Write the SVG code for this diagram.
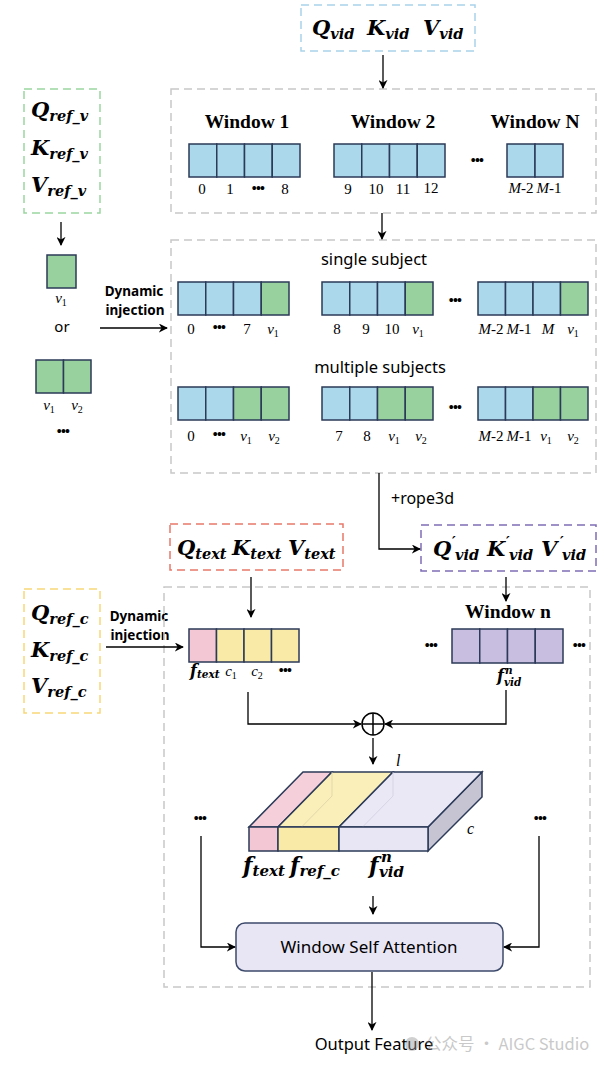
<svg xmlns="http://www.w3.org/2000/svg" width="602" height="1068" viewBox="0 0 602 1068">
<style>
.dg{fill:none;stroke:#c8c8c8;stroke-width:1.5;stroke-dasharray:8 5}
.cb{fill:#abd8ea;stroke:#2b3a58;stroke-width:1.5}
.cg{fill:#98d19e;stroke:#2b3a58;stroke-width:1.5}
.cp{fill:#f4c7d4;stroke:#2b3a58;stroke-width:1.5}
.cy{fill:#faeaa8;stroke:#2b3a58;stroke-width:1.5}
.cv{fill:#c8bfe0;stroke:#2b3a58;stroke-width:1.5}
.m{font-family:"DejaVu Serif",serif;font-weight:bold;font-style:italic;fill:#000}
.n{font-family:"Liberation Serif",serif;font-size:15px;fill:#000;text-anchor:middle}
.ni{font-family:"Liberation Serif",serif;font-size:15px;font-style:italic;fill:#000;text-anchor:middle}
.dots{font-family:"Liberation Sans",sans-serif;font-size:14px;letter-spacing:-0.8px;fill:#000;text-anchor:middle}
.h{font-family:"Noto Sans",sans-serif;fill:#000}
.t{font-family:"Liberation Serif",serif;font-weight:bold;font-size:19.5px;fill:#000;text-anchor:middle}
.c{stroke:#000;stroke-width:1.3;fill:none}
.a{marker-end:url(#ah)}
</style>
<defs>
<marker id="ah" viewBox="0 0 10 10" refX="9" refY="5" markerWidth="9" markerHeight="9" markerUnits="userSpaceOnUse" orient="auto">
<path d="M0,0 L10,5 L0,10 L3,5 z" fill="#000"/>
</marker>
</defs>

<g id="qkv-vid">
<rect x="301" y="5" width="174" height="46" fill="none" stroke="#a9d4ea" stroke-width="1.5" stroke-dasharray="8 5"/>
<text class="m" x="312" y="35"><tspan font-size="21">Q</tspan><tspan font-size="14.5" dy="4">vid</tspan></text>
<text class="m" x="367" y="35"><tspan font-size="21">K</tspan><tspan font-size="14.5" dy="4">vid</tspan></text>
<text class="m" x="423" y="35"><tspan font-size="21">V</tspan><tspan font-size="14.5" dy="4">vid</tspan></text>
</g>

<g id="qkv-ref-v">
<rect x="24" y="89" width="76" height="124" fill="none" stroke="#9ad6a0" stroke-width="1.5" stroke-dasharray="8 5"/>
<text class="m" x="31" y="117"><tspan font-size="21">Q</tspan><tspan font-size="14.5" dy="4">ref_v</tspan></text>
<text class="m" x="31" y="155"><tspan font-size="21">K</tspan><tspan font-size="14.5" dy="4">ref_v</tspan></text>
<text class="m" x="31" y="192"><tspan font-size="21">V</tspan><tspan font-size="14.5" dy="4">ref_v</tspan></text>
</g>

<g id="windows">
<rect class="dg" x="171" y="89" width="425" height="124"/>
<text class="t" x="247" y="128">Window 1</text>
<text class="t" x="393" y="128">Window 2</text>
<text class="t" x="535" y="128">Window N</text>
<rect class="cb" x="189" y="144" width="27.75" height="33"/>
<rect class="cb" x="216.75" y="144" width="27.75" height="33"/>
<rect class="cb" x="244.5" y="144" width="27.75" height="33"/>
<rect class="cb" x="272.25" y="144" width="27.75" height="33"/>
<text class="n" x="202" y="194">0</text><text class="n" x="230" y="194">1</text><text class="dots" x="258" y="193">•••</text><text class="n" x="285" y="194">8</text>
<rect class="cb" x="334" y="144" width="27.75" height="33"/>
<rect class="cb" x="361.75" y="144" width="27.75" height="33"/>
<rect class="cb" x="389.5" y="144" width="27.75" height="33"/>
<rect class="cb" x="417.25" y="144" width="27.75" height="33"/>
<text class="n" x="348" y="194">9</text><text class="n" x="376" y="194">10</text><text class="n" x="403" y="194">11</text><text class="n" x="431" y="193">12</text>
<text class="dots" x="477" y="165">•••</text>
<rect class="cb" x="507" y="144" width="28" height="33"/>
<rect class="cb" x="535" y="144" width="28" height="33"/>
<text class="ni" x="521" y="193">M<tspan font-style="normal">-2</tspan></text>
<text class="ni" x="549" y="193">M<tspan font-style="normal">-1</tspan></text>
</g>

<g id="ref-v-tokens">
<rect class="cg" x="47" y="255" width="29" height="33"/>
<text class="ni" x="61" y="303">v<tspan font-size="10" font-style="normal" dy="3">1</tspan></text>
<text class="h" x="62" y="332" font-size="15" text-anchor="middle">or</text>
<rect class="cg" x="36" y="360" width="27.5" height="33"/>
<rect class="cg" x="63.5" y="360" width="27.5" height="33"/>
<text class="ni" x="49" y="410">v<tspan font-size="10" font-style="normal" dy="3">1</tspan></text>
<text class="ni" x="77" y="410">v<tspan font-size="10" font-style="normal" dy="3">2</tspan></text>
<text class="dots" x="63" y="436">•••</text>
</g>

<g id="injection-1">
<text class="h" x="134" y="296" font-size="13.5" font-weight="bold" text-anchor="middle">Dynamic</text>
<text class="h" x="135" y="315" font-size="13.5" font-weight="bold" text-anchor="middle">injection</text>
</g>

<g id="injected-windows">
<rect class="dg" x="171" y="240" width="425" height="233"/>
<text class="h" x="374" y="265" font-size="16.5" text-anchor="middle">single subject</text>
<rect class="cb" x="178" y="282" width="27.75" height="33"/>
<rect class="cb" x="205.75" y="282" width="27.75" height="33"/>
<rect class="cb" x="233.5" y="282" width="27.75" height="33"/>
<rect class="cg" x="261.25" y="282" width="27.75" height="33"/>
<text class="n" x="191" y="334">0</text><text class="dots" x="219" y="332">•••</text><text class="n" x="247" y="334">7</text>
<text class="ni" x="273" y="334">v<tspan font-size="10" font-style="normal" dy="3">1</tspan></text>
<rect class="cb" x="322" y="282" width="27.75" height="33"/>
<rect class="cb" x="349.75" y="282" width="27.75" height="33"/>
<rect class="cb" x="377.5" y="282" width="27.75" height="33"/>
<rect class="cg" x="405.25" y="282" width="27.75" height="33"/>
<text class="n" x="337" y="334">8</text><text class="n" x="366" y="334">9</text><text class="n" x="392" y="334">10</text>
<text class="ni" x="418" y="334">v<tspan font-size="10" font-style="normal" dy="3">1</tspan></text>
<text class="dots" x="455" y="305">•••</text>
<rect class="cb" x="478" y="282" width="27.5" height="33"/>
<rect class="cb" x="505.5" y="282" width="27.5" height="33"/>
<rect class="cb" x="533" y="282" width="27.5" height="33"/>
<rect class="cg" x="560.5" y="282" width="27.5" height="33"/>
<text class="ni" x="491" y="334">M<tspan font-style="normal">-2</tspan></text>
<text class="ni" x="519" y="334">M<tspan font-style="normal">-1</tspan></text>
<text class="ni" x="548" y="334">M</text>
<text class="ni" x="573" y="334">v<tspan font-size="10" font-style="normal" dy="3">1</tspan></text>

<text class="h" x="380" y="373" font-size="16.5" text-anchor="middle">multiple subjects</text>
<rect class="cb" x="178" y="387" width="27.75" height="33"/>
<rect class="cb" x="205.75" y="387" width="27.75" height="33"/>
<rect class="cg" x="233.5" y="387" width="27.75" height="33"/>
<rect class="cg" x="261.25" y="387" width="27.75" height="33"/>
<text class="n" x="191" y="441">0</text><text class="dots" x="219" y="439">•••</text>
<text class="ni" x="246" y="441">v<tspan font-size="10" font-style="normal" dy="3">1</tspan></text>
<text class="ni" x="274" y="441">v<tspan font-size="10" font-style="normal" dy="3">2</tspan></text>
<rect class="cb" x="322" y="387" width="27.75" height="33"/>
<rect class="cb" x="349.75" y="387" width="27.75" height="33"/>
<rect class="cg" x="377.5" y="387" width="27.75" height="33"/>
<rect class="cg" x="405.25" y="387" width="27.75" height="33"/>
<text class="n" x="339" y="441">7</text><text class="n" x="367" y="441">8</text>
<text class="ni" x="394" y="441">v<tspan font-size="10" font-style="normal" dy="3">1</tspan></text>
<text class="ni" x="421" y="441">v<tspan font-size="10" font-style="normal" dy="3">2</tspan></text>
<text class="dots" x="455" y="412">•••</text>
<rect class="cb" x="478" y="387" width="27.5" height="33"/>
<rect class="cb" x="505.5" y="387" width="27.5" height="33"/>
<rect class="cg" x="533" y="387" width="27.5" height="33"/>
<rect class="cg" x="560.5" y="387" width="27.5" height="33"/>
<text class="ni" x="491" y="441">M<tspan font-style="normal">-2</tspan></text>
<text class="ni" x="519" y="441">M<tspan font-style="normal">-1</tspan></text>
<text class="ni" x="546" y="441">v<tspan font-size="10" font-style="normal" dy="3">1</tspan></text>
<text class="ni" x="573" y="441">v<tspan font-size="10" font-style="normal" dy="3">2</tspan></text>
</g>

<g id="qkv-text">
<rect x="170" y="524" width="173" height="46" fill="none" stroke="#e8786a" stroke-width="1.5" stroke-dasharray="8 5"/>
<text class="m" x="177" y="555"><tspan font-size="21">Q</tspan><tspan font-size="14.5" dy="4">text</tspan></text>
<text class="m" x="232" y="555"><tspan font-size="21">K</tspan><tspan font-size="14.5" dy="4">text</tspan></text>
<text class="m" x="288" y="555"><tspan font-size="21">V</tspan><tspan font-size="14.5" dy="4">text</tspan></text>
</g>

<g id="qkv-vid-prime">
<rect x="421" y="525" width="175" height="46" fill="none" stroke="#7d6db5" stroke-width="1.5" stroke-dasharray="8 5"/>
<text class="m" x="433" y="556" font-size="21">Q</text><text class="m" x="452" y="547" font-size="14">′</text><text class="m" x="455" y="560" font-size="14.5">vid</text>
<text class="m" x="487" y="556" font-size="21">K</text><text class="m" x="506" y="547" font-size="14">′</text><text class="m" x="509" y="560" font-size="14.5">vid</text>
<text class="m" x="541" y="556" font-size="21">V</text><text class="m" x="560" y="547" font-size="14">′</text><text class="m" x="562" y="560" font-size="14.5">vid</text>
</g>

<g id="qkv-ref-c">
<rect x="24" y="589" width="76" height="124" fill="none" stroke="#f8d778" stroke-width="1.5" stroke-dasharray="8 5"/>
<text class="m" x="31" y="620"><tspan font-size="21">Q</tspan><tspan font-size="14.5" dy="4">ref_c</tspan></text>
<text class="m" x="31" y="657"><tspan font-size="21">K</tspan><tspan font-size="14.5" dy="4">ref_c</tspan></text>
<text class="m" x="31" y="693"><tspan font-size="21">V</tspan><tspan font-size="14.5" dy="4">ref_c</tspan></text>
</g>

<g id="injection-2">
<text class="h" x="139" y="621" font-size="13.5" font-weight="bold" text-anchor="middle">Dynamic</text>
<text class="h" x="140" y="640" font-size="13.5" font-weight="bold" text-anchor="middle">injection</text>
</g>

<g id="attention-block">
<rect class="dg" x="164" y="587" width="426" height="400"/>
</g>

<g id="text-tokens">
<rect class="cp" x="189" y="629" width="27.5" height="33"/>
<rect class="cy" x="216.5" y="629" width="27.5" height="33"/>
<rect class="cy" x="244" y="629" width="27.5" height="33"/>
<rect class="cy" x="271.5" y="629" width="27.5" height="33"/>
<text class="m" x="190" y="676"><tspan font-size="16">f</tspan><tspan font-size="10.5" dy="2">text</tspan></text>
<text class="ni" x="231" y="676">c<tspan font-size="10" font-style="normal" dy="3">1</tspan></text>
<text class="ni" x="257" y="676">c<tspan font-size="10" font-style="normal" dy="3">2</tspan></text>
<text class="dots" x="285" y="675">•••</text>
</g>

<g id="window-n">
<text class="t" x="508" y="618">Window n</text>
<rect class="cv" x="452" y="629" width="27.75" height="34"/>
<rect class="cv" x="479.75" y="629" width="27.75" height="34"/>
<rect class="cv" x="507.5" y="629" width="27.75" height="34"/>
<rect class="cv" x="535.25" y="629" width="27.75" height="34"/>
<text class="dots" x="431" y="650">•••</text>
<text class="dots" x="579" y="650">•••</text>
<text class="m" x="497" y="681" font-size="16">f</text><text class="m" x="505" y="674" font-size="10.5">n</text><text class="m" x="504" y="686" font-size="10.5">vid</text>
</g>

<g id="add">
<circle cx="373" cy="724" r="11" fill="#fff" stroke="#000" stroke-width="1.5"/>
<line x1="362" y1="724" x2="384" y2="724" stroke="#000" stroke-width="1.5"/>
<line x1="373" y1="713" x2="373" y2="735" stroke="#000" stroke-width="1.5"/>
</g>

<g id="feature-block">
<polygon points="428,827 482,772 482,797 428,851" fill="#c6c3d3" stroke="#2b3a58" stroke-width="1.5"/>
<polygon points="249,827 303,772 332,772 278,827" fill="#f5cfda" stroke="#2b3a58" stroke-width="1.5"/>
<polygon points="278,827 332,772 393,772 339,827" fill="#faefb8" stroke="#2b3a58" stroke-width="1.5"/>
<polygon points="339,827 393,772 482,772 428,827" fill="#eae8f5" stroke="#2b3a58" stroke-width="1.5"/>
<line x1="278" y1="851" x2="332" y2="796" stroke="#d9cfa8" stroke-width="1" opacity="0.7"/>
<line x1="332" y1="772" x2="332" y2="796" stroke="#d9cfa8" stroke-width="1" opacity="0.7"/>
<line x1="339" y1="851" x2="393" y2="796" stroke="#d0cde0" stroke-width="1" opacity="0.7"/>
<line x1="393" y1="772" x2="393" y2="796" stroke="#d0cde0" stroke-width="1" opacity="0.7"/>
<rect x="249" y="827" width="29" height="24" fill="#f4c7d4" stroke="#2b3a58" stroke-width="1.5"/>
<rect x="278" y="827" width="61" height="24" fill="#faeaa8" stroke="#2b3a58" stroke-width="1.5"/>
<rect x="339" y="827" width="89" height="24" fill="#e8e6f4" stroke="#2b3a58" stroke-width="1.5"/>
<text x="396" y="766" font-family="Liberation Serif, serif" font-style="italic" font-size="16">l</text>
<text x="467" y="834" font-family="Liberation Serif, serif" font-style="italic" font-size="16">c</text>
<text class="m" x="243" y="873"><tspan font-size="22">f</tspan><tspan font-size="15" dy="3">text</tspan></text>
<text class="m" x="290" y="873"><tspan font-size="22">f</tspan><tspan font-size="15" dy="3">ref_c</tspan></text>
<text class="m" x="369" y="873" font-size="22">f</text><text class="m" x="381" y="862" font-size="15">n</text><text class="m" x="379" y="877" font-size="15">vid</text>
<text class="dots" x="200" y="823">•••</text>
<text class="dots" x="540" y="823">•••</text>
</g>

<g id="wsa">
<rect x="236" y="923" width="267" height="48" rx="9" fill="#e8e6f5" stroke="#3d4a6b" stroke-width="1.5"/>
<text class="h" x="369" y="953" font-size="17" text-anchor="middle">Window Self Attention</text>
</g>

<g id="output">
<text class="h" x="374" y="1050" font-size="16.5" text-anchor="middle">Output Feature</text>
</g>

<g id="watermark" opacity="0.45">
<circle cx="412" cy="1044" r="7" fill="#999"/>
<text x="425" y="1050" font-family="Noto Sans CJK SC, Noto Sans, sans-serif" font-size="16.5" fill="#888">公众号 · AIGC Studio</text>
</g>

<g id="connectors">
<line class="c a" x1="383" y1="55" x2="383" y2="88"/>
<line class="c a" x1="382" y1="213" x2="382" y2="239"/>
<line class="c a" x1="61" y1="222" x2="61" y2="245"/>
<line class="c a" x1="100" y1="328" x2="167" y2="328"/>
<polyline class="c a" points="379,473 379,549 420,549"/>
<text class="h" x="391" y="504" font-size="16">+rope3d</text>
<line class="c a" x1="251" y1="577" x2="251" y2="617"/>
<line class="c a" x1="506" y1="577" x2="506" y2="601"/>
<line class="c a" x1="106" y1="647" x2="183" y2="647"/>
<polyline class="c a" points="248,692 248,724 361,724"/>
<polyline class="c a" points="506,690 506,724 385,724"/>
<line class="c a" x1="373" y1="738" x2="373" y2="764"/>
<line class="c a" x1="373" y1="896" x2="373" y2="914"/>
<polyline class="c a" points="201,836 201,947 235,947"/>
<polyline class="c a" points="539,836 539,947 504,947"/>
<line class="c a" x1="372" y1="972" x2="372" y2="1030"/>
</g>
</svg>
